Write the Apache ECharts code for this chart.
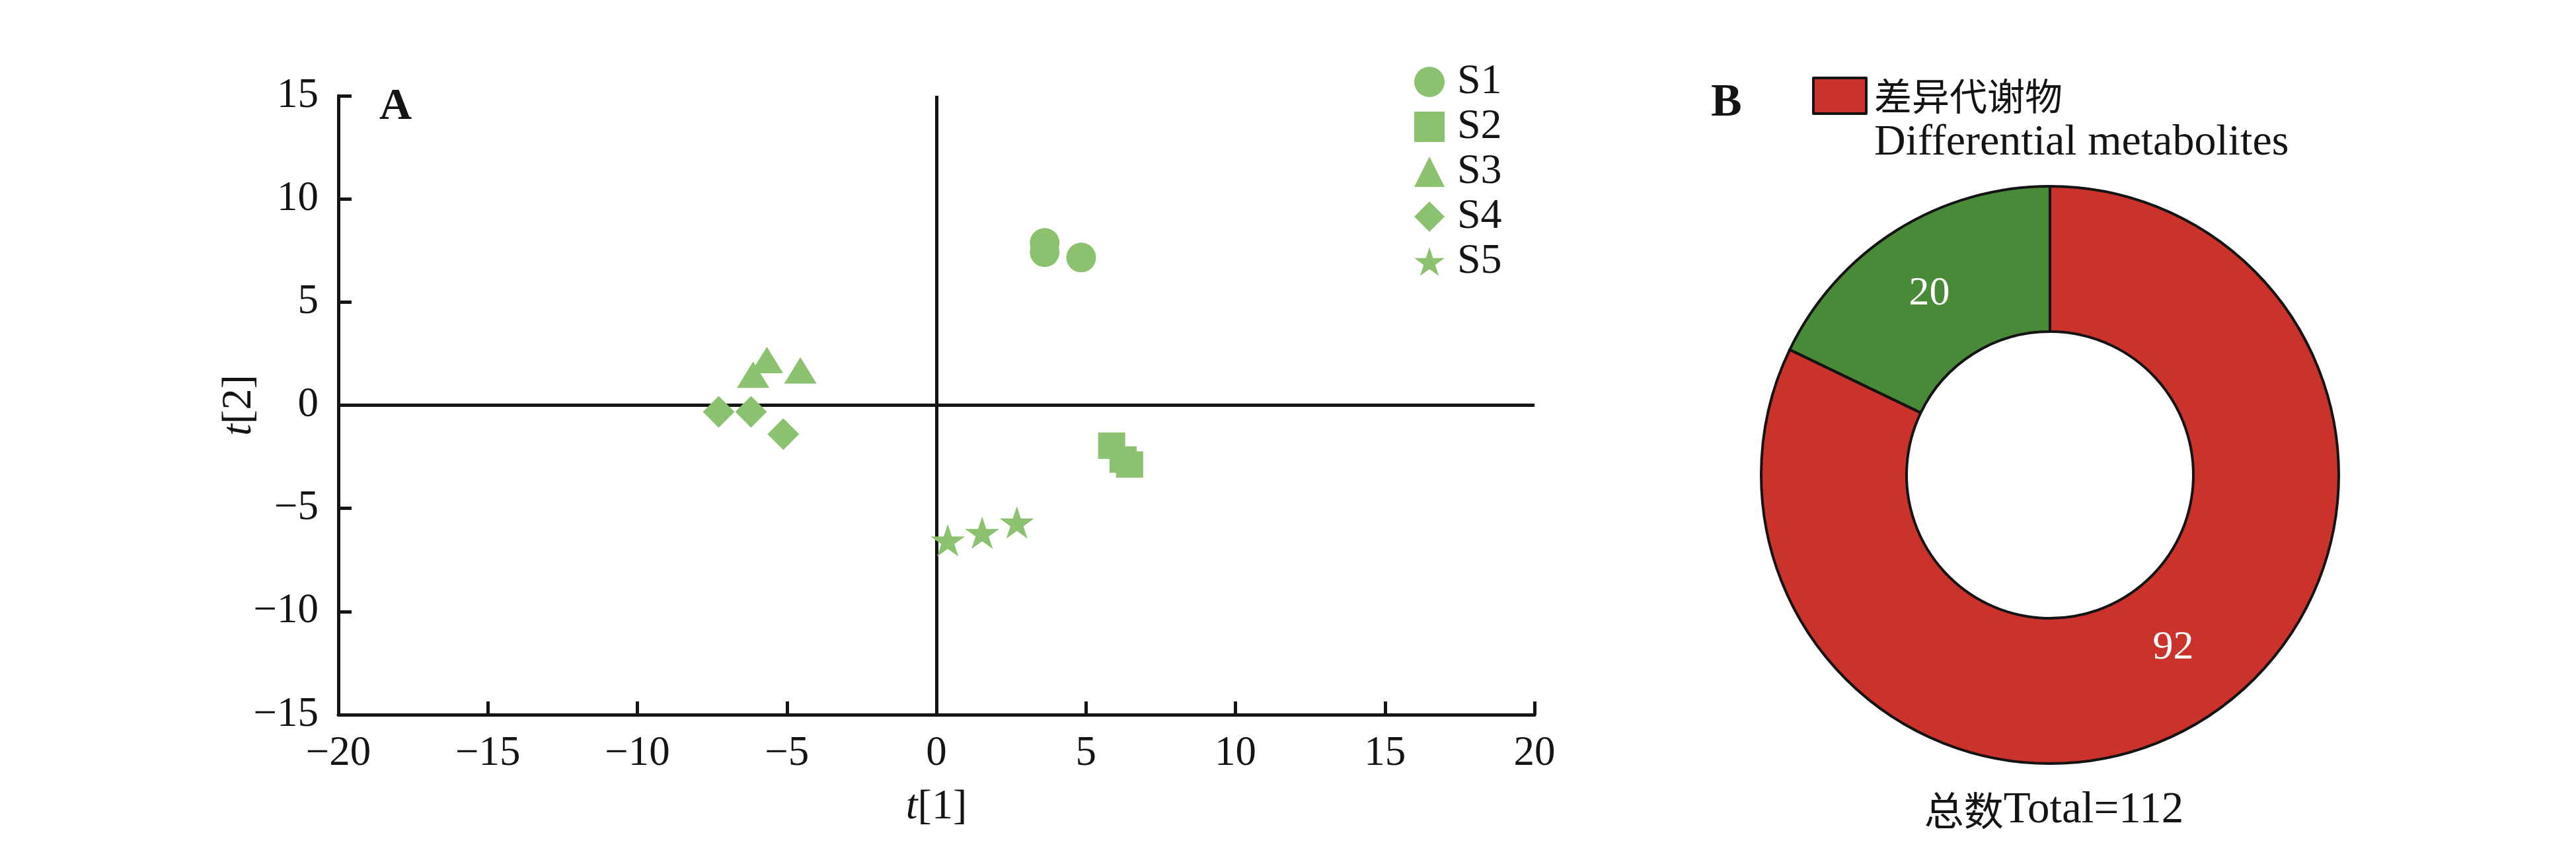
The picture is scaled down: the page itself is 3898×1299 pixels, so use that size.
<!DOCTYPE html>
<html>
<head>
<meta charset="utf-8">
<script src="https://cdn.jsdelivr.net/npm/echarts@6.0.0/dist/echarts.min.js"></script>
<style>
  html, body { margin: 0; padding: 0; background: #fff; }
  #chart { width: 3898px; height: 1299px; }
</style>
</head>
<body>
<div id="chart"></div>
<script>
// ---- Data (panel A: score plot) ----
const seriesNames = ['S1', 'S2', 'S3', 'S4', 'S5'];
const S1 = [[3.62, 7.87], [3.62, 7.42], [4.84, 7.16]];
const S2 = [[5.86, -1.96], [6.24, -2.63], [6.46, -2.87]];
const S3 = [[-5.67, 2.19], [-6.13, 1.48], [-4.55, 1.69]];
const S4 = [[-7.28, -0.32], [-6.20, -0.32], [-5.12, -1.40]];
const S5 = [[0.38, -6.55], [1.53, -6.18], [2.69, -5.68]];
const xRange = [-20, 20, 5];   // min, max, interval
const yRange = [-15, 15, 5];
const xName = 't[1]';
const yName = 't[2]';

// ---- Data (panel B: donut) ----
const pieNames = ['差异代谢物', '其他'];
const pieValues = [92, 20];
const legendSecondLine = 'Differential metabolites';
const totalLabel = '总数Total=112';
const panelLabels = ['A', 'B'];

// ---- Styles ----
const GREEN = '#8CC26F';
const RED = '#CB322B';
const DKGREEN = '#488A38';
const INK = '#141414';
const SERIF = 'Liberation Serif, Times New Roman, serif';
const CJK = 'Noto Sans CJK SC, sans-serif';
const STAR = 'path://M50,0 L61.8,36.2 L100,36.2 L69.1,58.6 L80.9,95 L50,72.6 L19.1,95 L30.9,58.6 L0,36.2 L38.2,36.2 Z';

const symbols = ['circle', 'rect', 'triangle', 'diamond', STAR];
const sizes = [[45, 45], [41, 40], [49, 40], [48, 48], [52, 49]];
const allData = [S1, S2, S3, S4, S5];

const minusFmt = v => (v < 0 ? '\u2212' + Math.abs(v) : String(v));

const axisCommon = {
  type: 'value',
  axisLine: { show: true, onZero: false, lineStyle: { color: INK, width: 5 } },
  axisTick: { show: true, inside: true, length: 20, lineStyle: { color: INK, width: 5 } },
  splitLine: { show: false },
  axisLabel: { color: INK, fontFamily: SERIF, fontSize: 63, formatter: minusFmt },
  nameLocation: 'middle',
  nameMoveOverlap: false,
  nameTextStyle: {
    color: INK, fontFamily: SERIF, fontSize: 64,
    rich: { i: { fontStyle: 'italic', fontFamily: SERIF, fontSize: 64, color: INK } }
  }
};

const scatterSeries = seriesNames.map((n, i) => {
  const s = {
    name: n,
    type: 'scatter',
    data: allData[i],
    symbol: symbols[i],
    symbolSize: sizes[i],
    itemStyle: { color: GREEN, opacity: 1 },
    z: 3
  };
  if (i === 0) {
    s.markLine = {
      silent: true,
      symbol: 'none',
      animation: false,
      label: { show: false },
      lineStyle: { color: INK, width: 5, type: 'solid' },
      data: [{ xAxis: 0 }, { yAxis: 0 }],
      z: 1
    };
  }
  return s;
});

const chart = echarts.init(document.getElementById('chart'), null, { renderer: 'canvas' });

const option = {
  backgroundColor: '#ffffff',
  animation: false,
  title: [
    { text: panelLabels[0], left: 574, top: 128, padding: 0,
      textStyle: { fontFamily: SERIF, fontWeight: 'bold', fontSize: 68, color: INK } },
    { text: panelLabels[1], left: 2589, top: 122, padding: 0,
      textStyle: { fontFamily: SERIF, fontWeight: 'bold', fontSize: 70, color: INK } },
    { text: '{c|' + totalLabel.slice(0, 2) + '}{e|' + totalLabel.slice(2) + '}',
      left: 3108, top: 1192, padding: 0, textAlign: 'center',
      textStyle: {
        fontWeight: 'normal',
        rich: {
          c: { fontFamily: CJK, fontSize: 60, fontWeight: 'normal', color: INK, lineHeight: 70 },
          e: { fontFamily: SERIF, fontSize: 67, fontWeight: 'normal', color: INK, lineHeight: 70 }
        }
      } }
  ],
  grid: { left: 512, top: 145, width: 1810, height: 937, containLabel: false },
  xAxis: Object.assign({}, axisCommon, {
    min: xRange[0], max: xRange[1], interval: xRange[2],
    name: '{i|t}' + xName.slice(1), nameGap: 108,
    axisLabel: Object.assign({}, axisCommon.axisLabel, { margin: 28 })
  }),
  yAxis: Object.assign({}, axisCommon, {
    min: yRange[0], max: yRange[1], interval: yRange[2],
    name: '{i|t}' + yName.slice(1), nameGap: 118,
    axisLabel: Object.assign({}, axisCommon.axisLabel, { margin: 30 })
  }),
  legend: [
    {
      data: seriesNames,
      orient: 'vertical',
      left: 2140, top: 92,
      itemWidth: 46, itemHeight: 46, itemGap: 4,
      padding: 0,
      textStyle: { fontFamily: SERIF, fontSize: 64, color: INK, padding: [0, 0, 0, 14] },
      selectedMode: false
    },
    {
      data: [pieNames[0]],
      orient: 'vertical',
      left: 2742, top: 116,
      itemWidth: 80, itemHeight: 54,
      padding: 0,
      icon: 'rect',
      itemStyle: { borderColor: INK, borderWidth: 4 },
      formatter: name => '{a|' + name + '}\n{b|' + legendSecondLine + '}',
      textStyle: {
        padding: [72, 0, 0, 7],
        rich: {
          a: { fontFamily: CJK, fontSize: 57, color: INK, lineHeight: 72 },
          b: { fontFamily: SERIF, fontSize: 66, color: INK, lineHeight: 72 }
        }
      },
      selectedMode: false
    }
  ],
  series: scatterSeries.concat([
    {
      name: 'B',
      type: 'pie',
      center: [3102, 719],
      radius: [217, 437],
      startAngle: 90,
      clockwise: true,
      data: [
        { name: pieNames[0], value: pieValues[0], itemStyle: { color: RED } },
        { name: pieNames[1], value: pieValues[1], itemStyle: { color: DKGREEN } }
      ],
      itemStyle: { borderColor: INK, borderWidth: 4 },
      label: {
        show: true, position: 'inside', formatter: '{c}',
        color: '#ffffff', fontFamily: SERIF, fontSize: 62
      },
      labelLine: { show: false },
      labelLayout: function (p) {
        return p.dataIndex === 0 ? { dx: 11, dy: -18 } : { dx: -7, dy: 5 };
      },
      emphasis: { disabled: true }
    }
  ])
};

chart.setOption(option);
</script>
</body>
</html>
